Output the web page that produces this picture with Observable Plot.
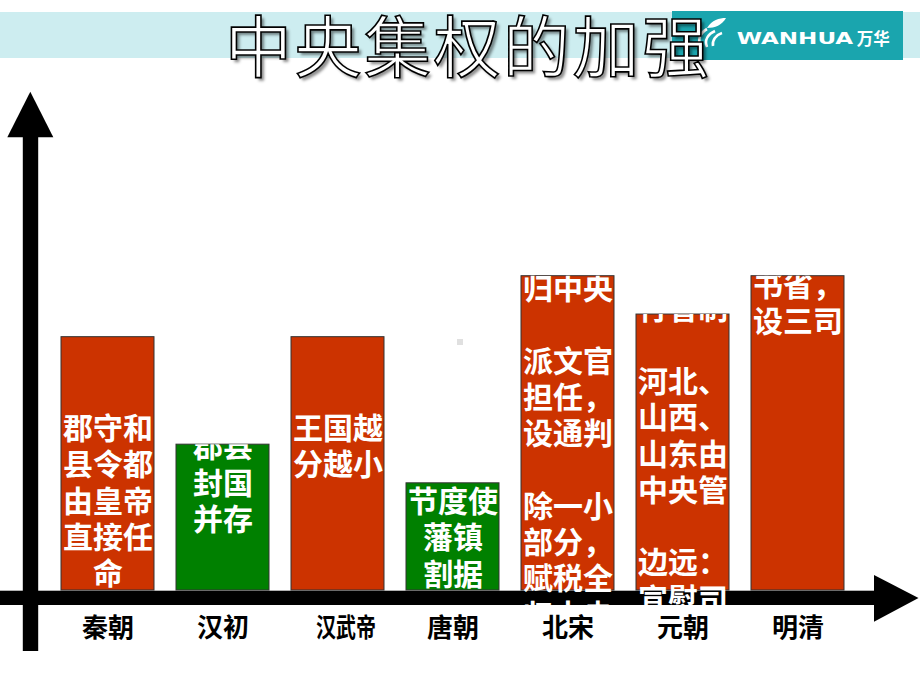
<!DOCTYPE html>
<html><head><meta charset="utf-8">
<script src="https://cdn.jsdelivr.net/npm/d3@7"></script>
<script src="https://cdn.jsdelivr.net/npm/@observablehq/plot@0.6"></script>
<style>
html,body{margin:0;padding:0;background:#fff;}
body{width:920px;height:690px;position:relative;overflow:hidden;font-family:"Noto Sans CJK SC",sans-serif;}
#band{position:absolute;left:0;top:12px;width:920px;height:46px;background:#cdedf0;}
#logo{position:absolute;left:672px;top:11px;}
#chart{position:absolute;left:0;top:0;}
#speck{position:absolute;left:457px;top:339px;width:6px;height:6px;background:#e0e0e0;}
#title{position:absolute;left:225px;top:9px;font-size:67px;line-height:67px;letter-spacing:2.5px;color:#fff;
  -webkit-text-stroke:1.6px #000;text-shadow:3px 3px 3px rgba(0,0,0,0.45);white-space:nowrap;
  font-family:"Noto Sans CJK SC",sans-serif;font-weight:normal;}
</style></head><body>
<div id="band"></div>
<svg id="logo" width="231" height="49" viewBox="0 0 231 49">
  <rect width="231" height="49" fill="#1aa5ae"/>
  <path d="M35 17 C40 9 47 7 54 7 C50 14 43 17 35 17Z" fill="#fff"/>
  <path d="M29 36 C25 29 28 22 35 18" stroke="#fff" stroke-width="2.6" fill="none"/>
  <path d="M35 36 C32 29 36 23 43 20" stroke="#fff" stroke-width="2.6" fill="none"/>
  <path d="M41 35 C40 29 44 24 50 22" stroke="#fff" stroke-width="2.6" fill="none"/>
  <text x="64.7" y="33.3" fill="#fff" font-family="DejaVu Sans" font-weight="bold" font-size="16.4" textLength="116.5" lengthAdjust="spacingAndGlyphs">WANHUA</text>
  <text x="184.7" y="34" fill="#fff" font-family="Noto Sans CJK SC" font-weight="bold" font-size="16.5" textLength="33" lengthAdjust="spacingAndGlyphs">万华</text>
</svg>
<div id="chart"></div>
<div id="speck"></div>
<div id="title">中央集权的加强</div>
<script>
// ---- data ----
const categories = ["秦朝", "汉初", "汉武帝", "唐朝", "北宋", "元朝", "明清"];
const power = [8.06, 4.64, 8.06, 3.41, 10, 8.78, 10];
const trend = ["加强", "削弱", "加强", "削弱", "加强", "加强", "加强"];
const notes = [
  "郡守和\n县令都\n由皇帝\n直接任\n命",
  "郡县\n封国\n并存",
  "王国越\n分越小",
  "节度使\n藩镇\n割据",
  "归中央\n\n派文官\n担任，\n设通判\n\n除一小\n部分，\n赋税全\n归中央",
  "行省制\n\n河北、\n山西、\n山东由\n中央管\n\n边远：\n宣慰司",
  "书省，\n设三司"
];
// ---- styles ----
const noteShift = [76, -13, 76, 3, -3, -21, -6];
const FONT = '"Noto Sans CJK SC","Noto Sans",sans-serif';

const rows = categories.map((c, i) => ({cat: c, value: power[i], trend: trend[i], note: notes[i]}));

const plot = Plot.plot({
  width: 920, height: 690,
  marginTop: 0, marginRight: 0, marginBottom: 0, marginLeft: 0,
  style: {background: "transparent", fontFamily: FONT, overflow: "visible"},
  x: {domain: categories, range: [50, 855], paddingInner: 0.194, paddingOuter: 0.097, axis: null},
  y: {domain: [0, 10], range: [590, 275.7], axis: null},
  color: {domain: ["加强", "削弱"], range: ["#cc3300", "#008000"]},
  marks: [
    Plot.barY(rows, {x: "cat", y: "value", fill: "trend", stroke: "#333", strokeWidth: 1}),
    ...rows.map((r, i) => Plot.text([r], {
      x: "cat", y: "value", text: "note", lineAnchor: "top", dy: noteShift[i],
      fill: "white", fontSize: 30, fontWeight: "bold", lineHeight: 1.21, ariaDescription: "note"
    })),
    Plot.text(rows, {x: "cat", y: () => 0, text: "cat", dy: 38, fill: "black",
      fontSize: 26, fontWeight: "bold", ariaDescription: "label"})
  ]
});

const ns = "http://www.w3.org/2000/svg";
const xs = plot.scale("x"), ys = plot.scale("y");
const y0 = ys.apply(0);
const svg = d3.select(plot);
const defs = svg.append("defs");

// axis arrows, drawn above the bars
const barG = plot.querySelector('g[aria-label="bar"]');
const axisG = document.createElementNS(ns, "g");
barG.after(axisG);
const ag = d3.select(axisG).attr("fill", "#000");
ag.append("rect").attr("x", 0).attr("y", y0 + 0.7).attr("width", 875).attr("height", 14.3);
ag.append("path").attr("d", `M874,${y0 - 15}L918.5,${y0 + 8}L874,${y0 + 31.7}Z`);
ag.append("rect").attr("x", 22.8).attr("y", 137).attr("width", 15.4).attr("height", 514);
ag.append("path").attr("d", "M30.3,91.7L53.3,137.3L7.3,137.3Z");

// clip each note to its bar (down to the axis bottom)
plot.querySelectorAll('g[aria-description="note"]').forEach((g, i) => {
  const r = rows[i];
  const id = "noteclip" + i;
  const top = ys.apply(r.value);
  defs.append("clipPath").attr("id", id).append("rect")
    .attr("x", xs.apply(r.cat)).attr("y", top)
    .attr("width", xs.bandwidth).attr("height", y0 + 15 - top);
  const w = document.createElementNS(ns, "g");
  w.setAttribute("clip-path", `url(#${id})`);
  g.parentNode.insertBefore(w, g);
  w.appendChild(g);
});

plot.querySelectorAll('g[aria-description="label"] text').forEach(t => {
  if (t.textContent === "汉武帝") {
    t.setAttribute("textLength", 60);
    t.setAttribute("lengthAdjust", "spacingAndGlyphs");
    t.setAttribute("dx", 8);
  }
});

document.getElementById("chart").appendChild(plot);
</script>
</body></html>
